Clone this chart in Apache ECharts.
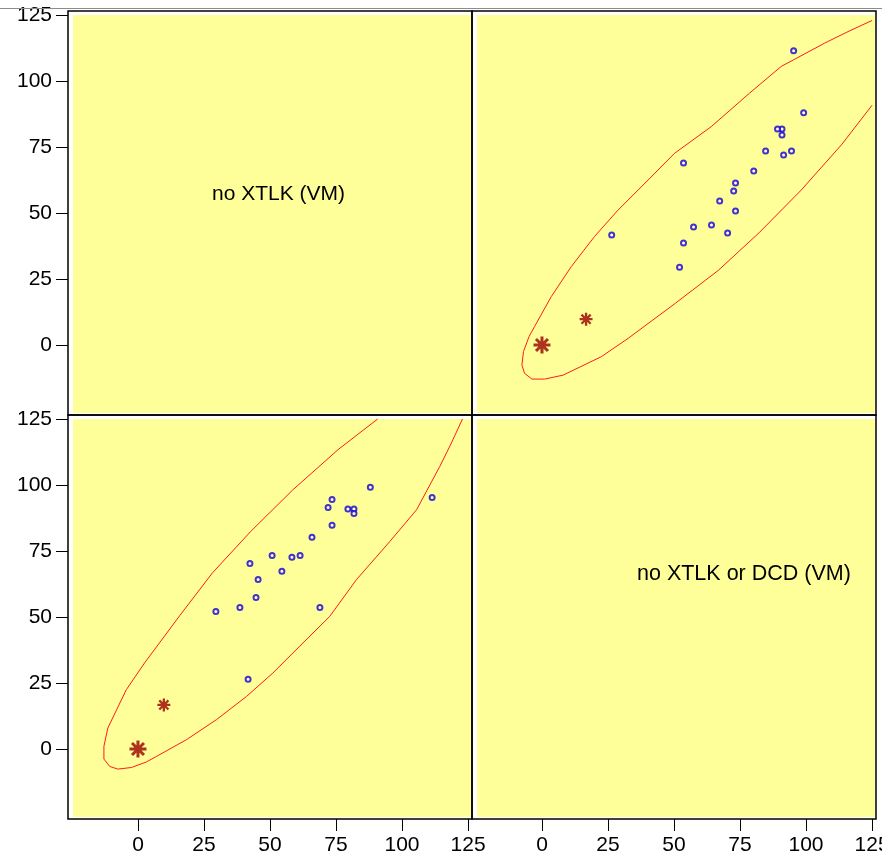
<!DOCTYPE html>
<html>
<head>
<meta charset="utf-8">
<title>scatterplot matrix</title>
<script type="text/javascript" src="https://cdn.jsdelivr.net/npm/echarts@6/dist/echarts.min.js"></script>
</head>
<body style="margin:0;background:#fff;">
<div id="main" style="width:882px;height:859px;"></div>
<script type="text/javascript">
// tick labels and axis range (same for every panel)
var tickValues = [0, 25, 50, 75, 100, 125];
var axisMin = -26.5, axisMax = 126.5;

// variable names shown on the diagonal
var varNames = ['no XTLK (VM)', 'no XTLK or DCD (VM)'];

// the 20 observations: var1 = no XTLK, var2 = no XTLK or DCD
var xtlk    = [88.0, 111.4, 73.5, 72.0, 79.5, 81.8, 81.8, 73.5, 65.9, 50.8, 58.3, 61.4, 42.4, 54.5, 45.5, 44.7, 29.5, 38.6, 68.9, 41.7];
var xtlkDcd = [99.1, 95.3, 94.5, 91.5, 90.9, 90.9, 89.2, 84.7, 80.2, 73.3, 72.6, 73.3, 70.3, 67.3, 64.2, 57.4, 52.1, 53.6, 53.6, 26.4];

// reference points (stars)
var bigStar = [0, 0];
var smallStar = [9.8, 16.7];

// confidence ellipse outline (var1, var2), clipped at 125
var ellipseX = [90.8, 75.8, 58.7, 42.5, 28.2, 15.8, 2.5, -4.4, -11.4, -12.9, -12.9, -10.7, -7.6, -2.5, 3.2, 7.0, 18.3, 29.7, 41.1, 51.1, 62.5, 72.6, 82.7, 95.3, 105.5, 114.3, 118.7, 122.9];
var ellipseY = [125, 113.4, 98.2, 82.2, 66.7, 50.5, 32.6, 22.5, 8.0, 1.0, -3.8, -6.6, -7.6, -7.0, -4.9, -2.8, 3.5, 11.1, 19.9, 28.8, 40.2, 50.2, 64.1, 78.5, 90.6, 107.0, 115.9, 125];

var myChart = echarts.init(document.getElementById('main'));

var FONT = 'Liberation Sans, Arial, sans-serif';
// 8-armed asterisk
var starPath = 'path://M0,8.2L20,8.2L20,11.8L0,11.8Z M8.2,0L11.8,0L11.8,20L8.2,20Z M4.2,1.7L18.3,15.8L15.8,18.3L1.7,4.2Z M15.8,1.7L18.3,4.2L4.2,18.3L1.7,15.8Z M7,7L13,7L13,13L7,13Z';

function pairs(a, b) {
    var out = [];
    for (var i = 0; i < a.length; i++) out.push([a[i], b[i]]);
    return out;
}

function makeAxis(gridIndex, visible) {
    return {
        type: 'value',
        gridIndex: gridIndex,
        min: axisMin,
        max: axisMax,
        show: visible,
        splitLine: { show: false },
        axisLine: { show: false, onZero: false },
        axisTick: {
            show: true,
            inside: false,
            length: 12,
            customValues: tickValues,
            lineStyle: { color: '#000', width: 1 }
        },
        axisLabel: {
            show: true,
            margin: 16,
            customValues: tickValues,
            color: '#000',
            fontSize: 21,
            fontFamily: FONT
        }
    };
}

// frame cells (carry the axes) and inner yellow panels
var cells = [
    { left: 68, top: 11 },   // top-left
    { left: 472, top: 11 },  // top-right
    { left: 68, top: 415 },  // bottom-left
    { left: 472, top: 415 }  // bottom-right
];
var grids = [];
cells.forEach(function (c) {
    grids.push({
        left: c.left, top: c.top, width: 404, height: 404,
        show: true, borderColor: '#000', borderWidth: 1.5,
        backgroundColor: 'transparent',
        containLabel: false, outerBoundsMode: 'none'
    });
});
cells.forEach(function (c) {
    grids.push({
        left: c.left + 5, top: c.top + 4, width: 398, height: 398,
        show: true, borderWidth: 0, borderColor: 'transparent',
        backgroundColor: '#ffff99',
        containLabel: false, outerBoundsMode: 'none'
    });
});

function panelSeries(idx, xs, ys, ex, ey, big, small) {
    return [{
        type: 'line',
        xAxisIndex: idx, yAxisIndex: idx,
        data: pairs(ex, ey),
        showSymbol: false,
        symbol: 'none',
        lineStyle: { color: '#ff1a1a', width: 1 },
        silent: true,
        z: 3
    }, {
        type: 'scatter',
        xAxisIndex: idx, yAxisIndex: idx,
        data: pairs(xs, ys),
        symbol: 'emptyCircle',
        symbolSize: 5,
        itemStyle: { color: '#1400c8', borderWidth: 3 },
        z: 4
    }, {
        type: 'scatter',
        xAxisIndex: idx, yAxisIndex: idx,
        data: [big],
        symbol: starPath,
        symbolSize: 17,
        itemStyle: { color: '#990000' },
        z: 5
    }, {
        type: 'scatter',
        xAxisIndex: idx, yAxisIndex: idx,
        data: [small],
        symbol: starPath,
        symbolSize: 13,
        itemStyle: { color: '#990000' },
        z: 5
    }];
}

var series = [].concat(
    // top-right: x = var2, y = var1
    panelSeries(1, xtlkDcd, xtlk, ellipseY, ellipseX, [bigStar[1], bigStar[0]], [smallStar[1], smallStar[0]]),
    // bottom-left: x = var1, y = var2
    panelSeries(2, xtlk, xtlkDcd, ellipseX, ellipseY, bigStar, smallStar)
);

option = {
    animation: false,
    backgroundColor: '#fff',
    textStyle: { fontFamily: FONT },
    grid: grids,
    xAxis: [makeAxis(0, false), makeAxis(1, false), makeAxis(2, true), makeAxis(3, true)],
    yAxis: [makeAxis(0, true), makeAxis(1, false), makeAxis(2, true), makeAxis(3, false)],
    graphic: [{
        type: 'line',
        shape: { x1: 0, y1: 8.5, x2: 882, y2: 8.5 },
        style: { stroke: '#8c8c8c', lineWidth: 1 },
        z: 10
    }, {
        type: 'text',
        x: 212, y: 184,
        style: { text: varNames[0], font: '21px ' + FONT, fill: '#000' },
        z: 10
    }, {
        type: 'text',
        x: 637, y: 563,
        style: { text: varNames[1], font: '21.5px ' + FONT, fill: '#000' },
        z: 10
    }],
    series: series
};

myChart.setOption(option);
</script>
</body>
</html>
